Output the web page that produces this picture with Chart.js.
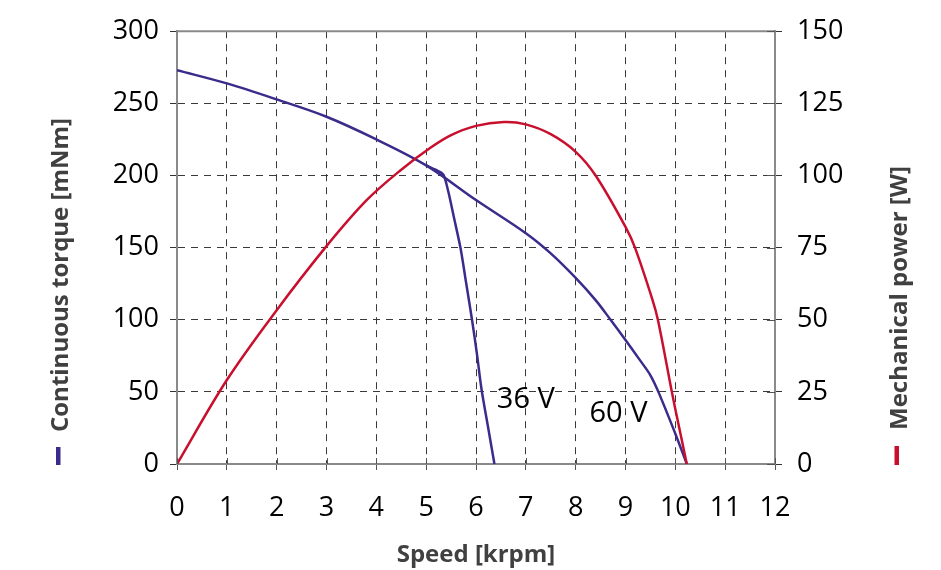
<!DOCTYPE html>
<html>
<head>
<meta charset="utf-8">
<script src="https://cdn.jsdelivr.net/npm/chart.js@4.4.0/dist/chart.umd.min.js"></script>
<style>
html,body{margin:0;padding:0;background:#fff;}
#wrap{width:941px;height:570px;position:relative;}
</style>
</head>
<body>
<div id="wrap"><canvas id="c" width="941" height="570"></canvas></div>
<script>
// ---- data ----
const speed60  = [0, 1, 2, 3, 4, 5, 6, 7, 7.5, 8, 8.4, 8.7, 9, 9.3, 9.5, 9.66, 10, 10.23];
const torque60 = [273, 263.8, 252.7, 240.7, 225, 207, 183, 160, 146, 129, 113.6, 100, 86, 71.5, 61.5, 50, 21, 0];

const speed36  = [5.0, 5.2, 5.3, 5.36, 5.45, 5.55, 5.69, 5.8, 5.92, 6.02, 6.11, 6.24, 6.37];
const torque36 = [207, 203.8, 202, 199.5, 188, 172, 149.5, 126, 100, 76, 52, 26, 0];

const speedPower = [0, 1, 2, 3, 3.81, 4.5, 5.085, 5.5, 6, 6.56, 7, 7.5, 8, 8.4, 9, 9.19, 9.54, 9.65, 9.93, 10, 10.23];
const power60    = [0, 29.1, 53.3, 75.5, 91.5, 102, 109.6, 114, 117.2, 118.5, 117.7, 114.3, 108.2, 100, 82.2, 75, 57, 50, 25, 19, 0];

const speedTicks  = [0,1,2,3,4,5,6,7,8,9,10,11,12];
const torqueTicks = [0,50,100,150,200,250,300];
const powerTicks  = [0,25,50,75,100,125,150];

const xTitle = 'Speed [krpm]';
const leftTitle = 'Continuous torque [mNm]';
const rightTitle = 'Mechanical power [W]';
const curveLabels = ['36 V', '60 V'];
const curveLabelSpeed = [7.0, 8.86];
const curveLabelTorque = [44.7, 35.0];

// ---- styles ----
const BLUE = '#3b2c8c';
const RED = '#c8102e';
const AXIS = '#8a8a8a';
const GRID = '#3a3a3a';
const TICKFONT = {family: '"Open Sans", "Noto Sans", sans-serif', size: 27};

const toPts = (xs, ys) => xs.map((x, i) => ({x: x, y: ys[i]}));

const decor = {
  id: 'decor',
  afterDraw(chart) {
    const {ctx, chartArea: a, scales} = chart;
    ctx.save();
    // top border
    ctx.strokeStyle = AXIS; ctx.lineWidth = 2;
    ctx.beginPath(); ctx.moveTo(a.left - 1, a.top); ctx.lineTo(a.right + 1, a.top); ctx.stroke();
    // inner tick marks (bottom and right)
    ctx.strokeStyle = '#555'; ctx.lineWidth = 1;
    ctx.beginPath();
    speedTicks.forEach(v => {
      const px = Math.round(scales.x.getPixelForValue(v)) + 0.5;
      ctx.moveTo(px, a.bottom); ctx.lineTo(px, a.bottom - 6);
    });
    powerTicks.forEach(v => {
      const py = Math.round(scales.y1.getPixelForValue(v)) + 0.5;
      ctx.moveTo(a.right, py); ctx.lineTo(a.right - 8, py);
    });
    ctx.stroke();

    // axis titles (both read bottom-to-top)
    ctx.fillStyle = '#404040';
    ctx.font = 'bold 24px "Open Sans", "Noto Sans", sans-serif';
    ctx.textAlign = 'center'; ctx.textBaseline = 'alphabetic';
    ctx.save(); ctx.translate(68, 275); ctx.rotate(-Math.PI / 2); ctx.fillText(leftTitle, 0, 0); ctx.restore();
    ctx.save(); ctx.translate(907, 298); ctx.rotate(-Math.PI / 2); ctx.fillText(rightTitle, 0, 0); ctx.restore();
    // legend markers
    ctx.fillStyle = BLUE; ctx.fillRect(56, 447, 4.5, 18);
    ctx.fillStyle = RED; ctx.fillRect(894.5, 446, 4.5, 19);

    // curve labels
    ctx.fillStyle = '#000';
    ctx.font = '29px "Open Sans", "Noto Sans", sans-serif';
    ctx.textAlign = 'center'; ctx.textBaseline = 'middle';
    curveLabels.forEach((t, i) => {
      ctx.fillText(t, scales.x.getPixelForValue(curveLabelSpeed[i]), scales.y.getPixelForValue(curveLabelTorque[i]));
    });
    ctx.restore();
  }
};

new Chart(document.getElementById('c'), {
  type: 'line',
  data: {
    datasets: [
      {label: 'Mechanical power 60 V', data: toPts(speedPower, power60), yAxisID: 'y1',
       borderColor: RED, borderWidth: 2.5, pointRadius: 0, tension: 0.35, fill: false},
      {label: '60 V', data: toPts(speed60, torque60), yAxisID: 'y',
       borderColor: BLUE, borderWidth: 2.5, pointRadius: 0, tension: 0.35, fill: false},
      {label: '36 V', data: toPts(speed36, torque36), yAxisID: 'y',
       borderColor: BLUE, borderWidth: 2.5, pointRadius: 0, tension: 0.3, fill: false}
    ]
  },
  options: {
    responsive: false,
    animation: false,
    devicePixelRatio: 1,
    layout: {padding: {top: 31, left: 0, right: 0, bottom: 0}},
    plugins: {legend: {display: false}, tooltip: {enabled: false}},
    scales: {
      x: {
        type: 'linear', position: 'bottom', min: 0, max: 12,
        afterBuildTicks: s => { s.ticks = speedTicks.map(v => ({value: v})); },
        ticks: {color: '#000', font: TICKFONT, padding: 22, maxRotation: 0, autoSkip: false},
        grid: {color: GRID, lineWidth: 1, tickLength: 6, tickColor: '#555'},
        border: {color: AXIS, width: 2, dash: [7, 6]},
        title: {display: true, text: xTitle, color: '#404040',
                font: {family: '"Open Sans", "Noto Sans", sans-serif', size: 24, weight: 'bold'},
                padding: {top: 0, bottom: 0}},
        afterFit: s => { s.height = 106; }
      },
      y: {
        type: 'linear', position: 'left', min: 0, max: 300,
        afterBuildTicks: s => { s.ticks = torqueTicks.map(v => ({value: v})); },
        ticks: {color: '#000', font: TICKFONT, padding: 11},
        grid: {color: GRID, lineWidth: 1, tickLength: 7, tickColor: '#333'},
        border: {color: AXIS, width: 2, dash: [7, 6]},
        afterFit: s => { s.width = 177; }
      },
      y1: {
        type: 'linear', position: 'right', min: 0, max: 150,
        afterBuildTicks: s => { s.ticks = powerTicks.map(v => ({value: v})); },
        ticks: {color: '#000', font: TICKFONT, padding: 15},
        grid: {drawOnChartArea: false, tickLength: 7, tickColor: '#333', lineWidth: 1},
        border: {color: AXIS, width: 2},
        afterFit: s => { s.width = 166; }
      }
    }
  },
  plugins: [decor]
});
</script>
</body>
</html>
